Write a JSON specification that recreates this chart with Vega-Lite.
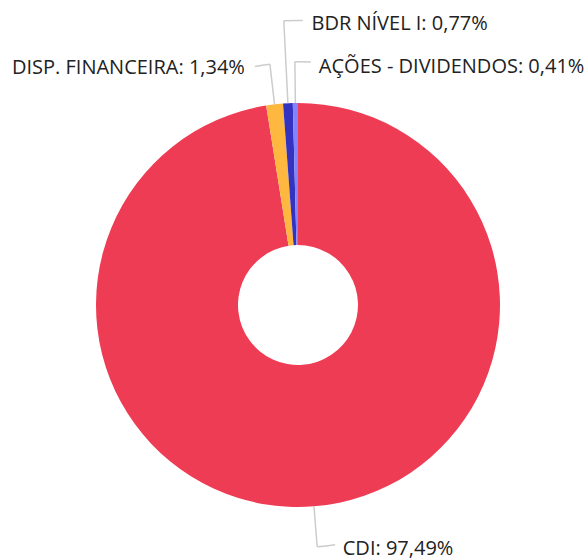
{
  "$schema": "https://vega.github.io/schema/vega-lite/v6.json",
  "width": 580,
  "height": 510,
  "autosize": "none",
  "padding": {"left": 8, "top": 50, "right": 0, "bottom": 0},
  "background": "white",
  "config": {"view": {"stroke": null}},
  "data": {
    "values": [
      {"categoria": "CDI", "valor": 97.49, "ordem": 1, "rotulo": "CDI: 97,49%"},
      {"categoria": "DISP. FINANCEIRA", "valor": 1.34, "ordem": 2, "rotulo": "DISP. FINANCEIRA: 1,34%"},
      {"categoria": "BDR NÍVEL I", "valor": 0.77, "ordem": 3, "rotulo": "BDR NÍVEL I: 0,77%"},
      {"categoria": "AÇÕES - DIVIDENDOS", "valor": 0.41, "ordem": 4, "rotulo": "AÇÕES - DIVIDENDOS: 0,41%"}
    ]
  },
  "transform": [
    {"stack": "valor", "groupby": [], "sort": [{"field": "ordem", "order": "ascending"}], "as": ["v0", "v1"]},
    {"calculate": "(datum.v0 + datum.v1) / 2", "as": "meio"}
  ],
  "layer": [
    {
      "mark": {"type": "arc", "radius": 202, "radius2": 60},
      "encoding": {
        "theta": {"field": "v0", "type": "quantitative", "stack": null, "scale": {"domain": [0, 100.01], "range": [0, 6.283185307179586]}},
        "theta2": {"field": "v1"},
        "color": {
          "field": "categoria",
          "type": "nominal",
          "scale": {
            "domain": ["CDI", "DISP. FINANCEIRA", "BDR NÍVEL I", "AÇÕES - DIVIDENDOS"],
            "range": ["#EF3C55", "#FFB83F", "#3333BF", "#8383FF"]
          },
          "legend": null
        }
      }
    },
    {
      "transform": [{"filter": "datum.ordem == 1"}],
      "layer": [
        {
          "mark": {"type": "arc", "radius": 242.5, "radius2": 202, "filled": false, "stroke": "#cccccc", "strokeWidth": 1.5},
          "encoding": {
            "theta": {"field": "meio", "type": "quantitative", "stack": null, "scale": {"domain": [0, 100.01], "range": [0, 6.283185307179586]}},
            "theta2": {"field": "meio"}
          }
        },
        {
          "mark": {"type": "arc", "radius": 242.5, "radius2": 242.5, "filled": false, "stroke": "#cccccc", "strokeWidth": 1.5},
          "encoding": {
            "theta": {"field": "meio", "type": "quantitative", "stack": null, "scale": {"domain": [0, 100.01], "range": [0, 6.283185307179586]}},
            "theta2": {"datum": 47.56}
          }
        },
        {
          "mark": {"type": "text", "radius": 242.5, "align": "left", "baseline": "alphabetic", "dx": 25.6, "dy": 8.3, "font": "Open Sans", "fontSize": 20, "color": "#222222"},
          "encoding": {
            "theta": {"field": "meio", "type": "quantitative", "stack": null, "scale": {"domain": [0, 100.01], "range": [0, 6.283185307179586]}},
            "text": {"field": "rotulo"}
          }
        }
      ]
    },
    {
      "transform": [{"filter": "datum.ordem == 2"}],
      "layer": [
        {
          "mark": {"type": "arc", "radius": 242.3, "radius2": 202, "filled": false, "stroke": "#cccccc", "strokeWidth": 1.5},
          "encoding": {
            "theta": {"field": "meio", "type": "quantitative", "stack": null, "scale": {"domain": [0, 100.01], "range": [0, 6.283185307179586]}},
            "theta2": {"field": "meio"}
          }
        },
        {
          "mark": {"type": "arc", "radius": 242.3, "radius2": 242.3, "filled": false, "stroke": "#cccccc", "strokeWidth": 1.5},
          "encoding": {
            "theta": {"field": "meio", "type": "quantitative", "stack": null, "scale": {"domain": [0, 100.01], "range": [0, 6.283185307179586]}},
            "theta2": {"datum": 97.16}
          }
        },
        {
          "mark": {"type": "text", "radius": 242.3, "align": "right", "baseline": "alphabetic", "dx": -25, "dy": 10, "font": "Open Sans", "fontSize": 20, "color": "#222222"},
          "encoding": {
            "theta": {"field": "meio", "type": "quantitative", "stack": null, "scale": {"domain": [0, 100.01], "range": [0, 6.283185307179586]}},
            "text": {"field": "rotulo"}
          }
        }
      ]
    },
    {
      "transform": [{"filter": "datum.ordem == 3"}],
      "layer": [
        {
          "mark": {"type": "arc", "radius": 284.6, "radius2": 202, "filled": false, "stroke": "#cccccc", "strokeWidth": 1.5},
          "encoding": {
            "theta": {"field": "meio", "type": "quantitative", "stack": null, "scale": {"domain": [0, 100.01], "range": [0, 6.283185307179586]}},
            "theta2": {"field": "meio"}
          }
        },
        {
          "mark": {"type": "arc", "radius": 284.6, "radius2": 284.6, "filled": false, "stroke": "#cccccc", "strokeWidth": 1.5},
          "encoding": {
            "theta": {"field": "meio", "type": "quantitative", "stack": null, "scale": {"domain": [0, 100.01], "range": [0, 6.283185307179586]}},
            "theta2": {"datum": 100.28}
          }
        },
        {
          "mark": {"type": "text", "radius": 284.6, "align": "left", "baseline": "alphabetic", "dx": 27.7, "dy": 9.3, "font": "Open Sans", "fontSize": 20, "color": "#222222"},
          "encoding": {
            "theta": {"field": "meio", "type": "quantitative", "stack": null, "scale": {"domain": [0, 100.01], "range": [0, 6.283185307179586]}},
            "text": {"field": "rotulo"}
          }
        }
      ]
    },
    {
      "transform": [{"filter": "datum.ordem == 4"}],
      "layer": [
        {
          "mark": {"type": "arc", "radius": 243.3, "radius2": 202, "filled": false, "stroke": "#cccccc", "strokeWidth": 1.5},
          "encoding": {
            "theta": {"field": "meio", "type": "quantitative", "stack": null, "scale": {"domain": [0, 100.01], "range": [0, 6.283185307179586]}},
            "theta2": {"field": "meio"}
          }
        },
        {
          "mark": {"type": "arc", "radius": 243.3, "radius2": 243.3, "filled": false, "stroke": "#cccccc", "strokeWidth": 1.5},
          "encoding": {
            "theta": {"field": "meio", "type": "quantitative", "stack": null, "scale": {"domain": [0, 100.01], "range": [0, 6.283185307179586]}},
            "theta2": {"datum": 100.85}
          }
        },
        {
          "mark": {"type": "text", "radius": 243.3, "align": "left", "baseline": "alphabetic", "dx": 24, "dy": 11, "font": "Open Sans", "fontSize": 20, "color": "#222222"},
          "encoding": {
            "theta": {"field": "meio", "type": "quantitative", "stack": null, "scale": {"domain": [0, 100.01], "range": [0, 6.283185307179586]}},
            "text": {"field": "rotulo"}
          }
        }
      ]
    }
  ]
}
